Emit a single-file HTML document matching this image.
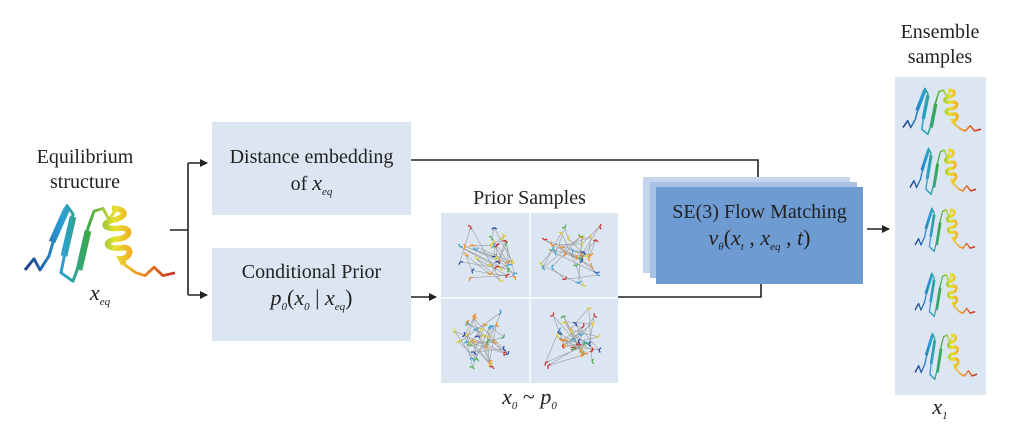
<!DOCTYPE html>
<html><head><meta charset="utf-8"><style>
body{margin:0;width:1024px;height:423px;background:#fff;overflow:hidden;position:relative;font-family:"Liberation Serif",serif;color:#222}
.t{position:absolute;text-align:center;font-size:20px;line-height:25px}
.m{font-size:22px}
i{font-style:italic}
sub{font-size:11px;font-style:italic;vertical-align:-5px}
</style></head><body>
<svg id="s" width="1024" height="423" style="position:absolute;left:0;top:0">
<defs>
<linearGradient id="g" gradientUnits="userSpaceOnUse" x1="0" x2="100" y1="0" y2="0">
<stop offset="0" stop-color="#1e3a8a"/><stop offset="0.25" stop-color="#2a9fd6"/><stop offset="0.42" stop-color="#3aa84a"/><stop offset="0.6" stop-color="#e8e030"/><stop offset="0.75" stop-color="#f29a20"/><stop offset="1" stop-color="#c0302a"/></linearGradient>
<marker id="a" markerWidth="8" markerHeight="8" refX="7" refY="4" orient="auto" markerUnits="userSpaceOnUse"><path d="M0,0 L8,4 L0,8 z" fill="#222"/></marker>
<g id="p">
<path d="M0,50 L6,42 L10,50 L16,40 L22,18 L28,4 L32,10 L28,30 L24,52 L32,58 L38,40 L42,20 L46,8 L52,6 L56,14 L60,8 M66,46 L74,52 L80,54 L86,48 L92,54 L100,52" fill="none" stroke="url(#g)" stroke-width="2" stroke-linejoin="round"/>
<path d="M18,30 L28,6 M26,40 L32,12 M36,50 L42,22" stroke="url(#g)" stroke-width="4.5" fill="none"/>
<path d="M58,6 C68,6 68,12 60,14 C50,16 52,22 64,20 C72,20 70,28 60,28 C52,30 54,36 66,34 C72,34 70,42 64,42 L66,46" stroke="url(#g)" stroke-width="4" fill="none"/>
</g>
</defs>
<rect x="212" y="122" width="199" height="93" fill="#dce6f2"/>
<rect x="212" y="248" width="199" height="93" fill="#dce6f2"/>
<rect x="441" y="213" width="177" height="170" fill="#dce6f2"/>
<g id="scr"></g>
<line x1="530" y1="213" x2="530" y2="383" stroke="#fff" stroke-width="1.5"/>
<line x1="441" y1="298" x2="618" y2="298" stroke="#fff" stroke-width="1.5"/>
<rect x="643" y="177" width="207" height="96" fill="#c5d5ec"/>
<rect x="650" y="182" width="207" height="96" fill="#a9c1e4"/>
<rect x="656" y="187" width="207" height="97" fill="#6f9bd3"/>
<rect x="895" y="77" width="91" height="318" fill="#dce6f2"/>
<g fill="none" stroke="#222" stroke-width="1.6">
<path d="M170,230 H188 M188,163 V295"/>
<path d="M188,163 H207" marker-end="url(#a)"/>
<path d="M188,295 H207" marker-end="url(#a)"/>
<path d="M411,297 H436" marker-end="url(#a)"/>
<path d="M411,160 H758 V177"/>
<path d="M618,297 H761 V284"/>
<path d="M867,229 H889" marker-end="url(#a)"/>
</g>
<use href="#p" transform="translate(25,200) scale(1.5,1.4)"/>
<use href="#p" transform="translate(903,85) scale(0.78,0.85)"/>
<use href="#p" transform="translate(910,145) scale(0.66,0.85)"/>
<use href="#p" transform="translate(915,205) scale(0.6,0.8)"/>
<use href="#p" transform="translate(915,270) scale(0.6,0.8)"/>
<use href="#p" transform="translate(915,330) scale(0.62,0.85)"/>
</svg>
<div class="t" style="left:20px;top:145px;width:130px">Equilibrium<br>structure</div>
<div class="t m" style="left:70px;top:280px;width:60px"><i>x</i><sub>eq</sub></div>
<div class="t" style="left:212px;top:145px;width:199px">Distance embedding<br>of <i class="m">x</i><sub>eq</sub></div>
<div class="t" style="left:212px;top:260px;width:199px">Conditional Prior<br><span class="m"><i>p</i><sub>0</sub>(<i>x</i><sub>0</sub> | <i>x</i><sub>eq</sub>)</span></div>
<div class="t" style="left:441px;top:186px;width:177px">Prior Samples</div>
<div class="t m" style="left:441px;top:384px;width:177px"><i>x</i><sub>0</sub> ~ <i>p</i><sub>0</sub></div>
<div class="t" style="left:656px;top:200px;width:207px">SE(3) Flow Matching<br><span class="m"><i>v</i><sub>θ</sub>(<i>x</i><sub>t</sub> , <i>x</i><sub>eq</sub> , <i>t</i>)</span></div>
<div class="t" style="left:880px;top:20px;width:120px">Ensemble<br>samples</div>
<div class="t m" style="left:910px;top:394px;width:60px"><i>x</i><sub>1</sub></div>
<script>
var g=document.getElementById('scr'),seed=7;function r(){seed=(seed*16807)%2147483647;return seed/2147483647;}
var cols=['#2a4bb0','#3aa0d8','#4cb04c','#e0d030','#f09020','#d03030'];
[[441,213],[530,213],[441,298],[530,298]].forEach(function(o){var d='',x,y;for(var i=0;i<36;i++){x=o[0]+6+(r()*0.6+(r()+r())/2*0.4)*76;y=o[1]+6+(r()*0.6+(r()+r())/2*0.4)*72;d+=(i?'L':'M')+x.toFixed(1)+','+y.toFixed(1);
var c=document.createElementNS('http://www.w3.org/2000/svg','path');var a=r()*6.28;c.setAttribute('d','M'+x+','+y+'l'+(3*Math.cos(a)).toFixed(1)+','+(3*Math.sin(a)).toFixed(1)+'M'+x+','+y+'l'+(3*Math.cos(a+2)).toFixed(1)+','+(3*Math.sin(a+2)).toFixed(1));c.setAttribute('stroke',cols[Math.floor(r()*6)]);c.setAttribute('stroke-width','1.3');g.appendChild(c);}
var p=document.createElementNS('http://www.w3.org/2000/svg','path');p.setAttribute('d',d);p.setAttribute('fill','none');p.setAttribute('stroke','#999');p.setAttribute('stroke-width','0.6');g.insertBefore(p,g.firstChild);});
</script>
</body></html>
